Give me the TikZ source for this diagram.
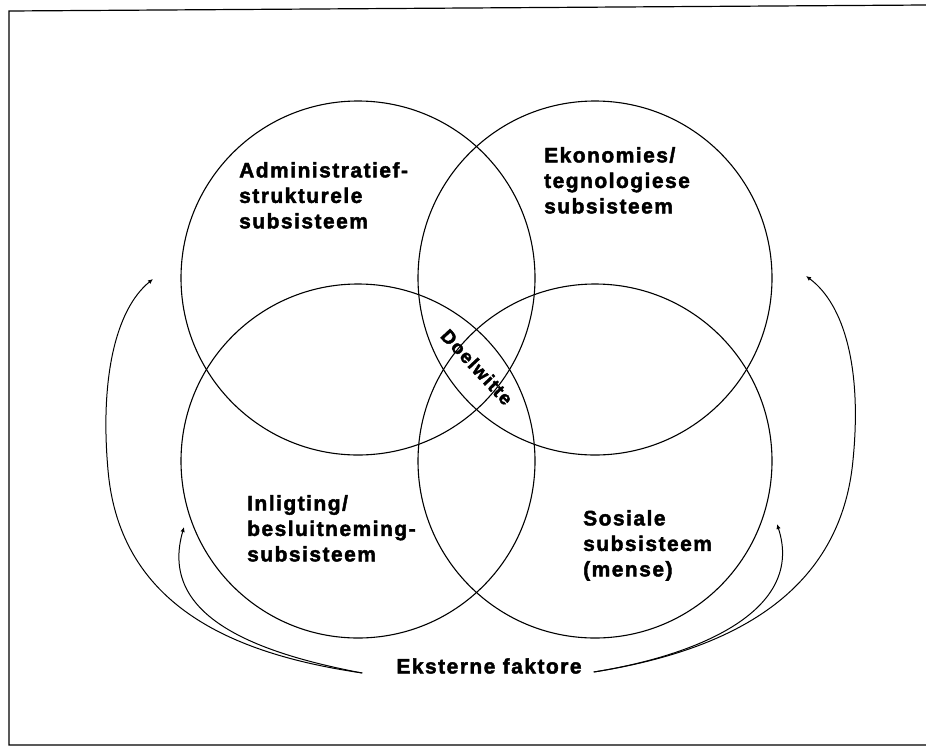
\documentclass[tikz,border=0pt]{standalone}
\usepackage{fontspec}
\setmainfont{Liberation Sans}
\newfontfamily\lblfont{Liberation Sans}[UprightFont={* Bold},FakeBold=2,LetterSpace=7]
\usetikzlibrary{arrows.meta}
\begin{document}
\begin{tikzpicture}[x=1pt,y=-1pt,
  sub/.style={circle,draw,line width=1.1pt,minimum size=354pt,inner sep=0pt},
  lbl/.style={anchor=north west,inner sep=0pt,align=left,
    font=\lblfont\fontsize{21}{25.5}\selectfont},
  flow/.style={line width=1pt,-{Latex[length=5pt,width=4.5pt]}}]
\useasboundingbox (0,0) rectangle (926,747);
% frame
\draw[line width=1.2pt] (926,5) -- (9,11) -- (9,745) -- (926,745);
% the four subsystems
\node[sub] (adm) at (358,278) {};
\node[sub] (eko) at (595,278) {};
\node[sub] (inl) at (358,461) {};
\node[sub] (sos) at (595,461) {};
% labels
\node[lbl] (tadm) at (239,162) {Administratief-\\strukturele\\subsisteem};
\node[lbl] (teko) at (544,147) {Ekonomies/\\tegnologiese\\subsisteem};
\node[lbl] (tinl) at (247,495) {Inligting/\\besluitneming-\\subsisteem};
\node[lbl] (tsos) at (583,510) {Sosiale\\subsisteem\\(mense)};
\node[inner sep=0pt,rotate=-47,font=\lblfont\fontsize{19}{22}\selectfont]
  (doel) at (477,367) {Doelwitte};
\node[inner sep=0pt,font=\lblfont\fontsize{21}{25}\selectfont]
  (eks) at (489,666) {Eksterne faktore};
% external influences
\coordinate (ls) at ([xshift=-34pt,yshift=-7pt]eks.west);
\coordinate (rs) at ([xshift=12pt,yshift=-6pt]eks.east);
\coordinate (la) at (153,279);
\coordinate (lb) at (184,527);
\coordinate (ra) at (806,276);
\coordinate (rb) at (777,524);
\draw[flow] (ls) .. controls (240,655) and (120,610) .. (108,470)
  .. controls (100,380) and (115,310) .. (la);
\draw[flow] (ls) .. controls (240,650) and (160,610) .. (lb);
\draw[flow] (rs) .. controls (720,652) and (840,600) .. (853,460)
  .. controls (862,370) and (845,305) .. (ra);
\draw[flow] (rs) .. controls (700,655) and (805,610) .. (rb);
\end{tikzpicture}
\end{document}
